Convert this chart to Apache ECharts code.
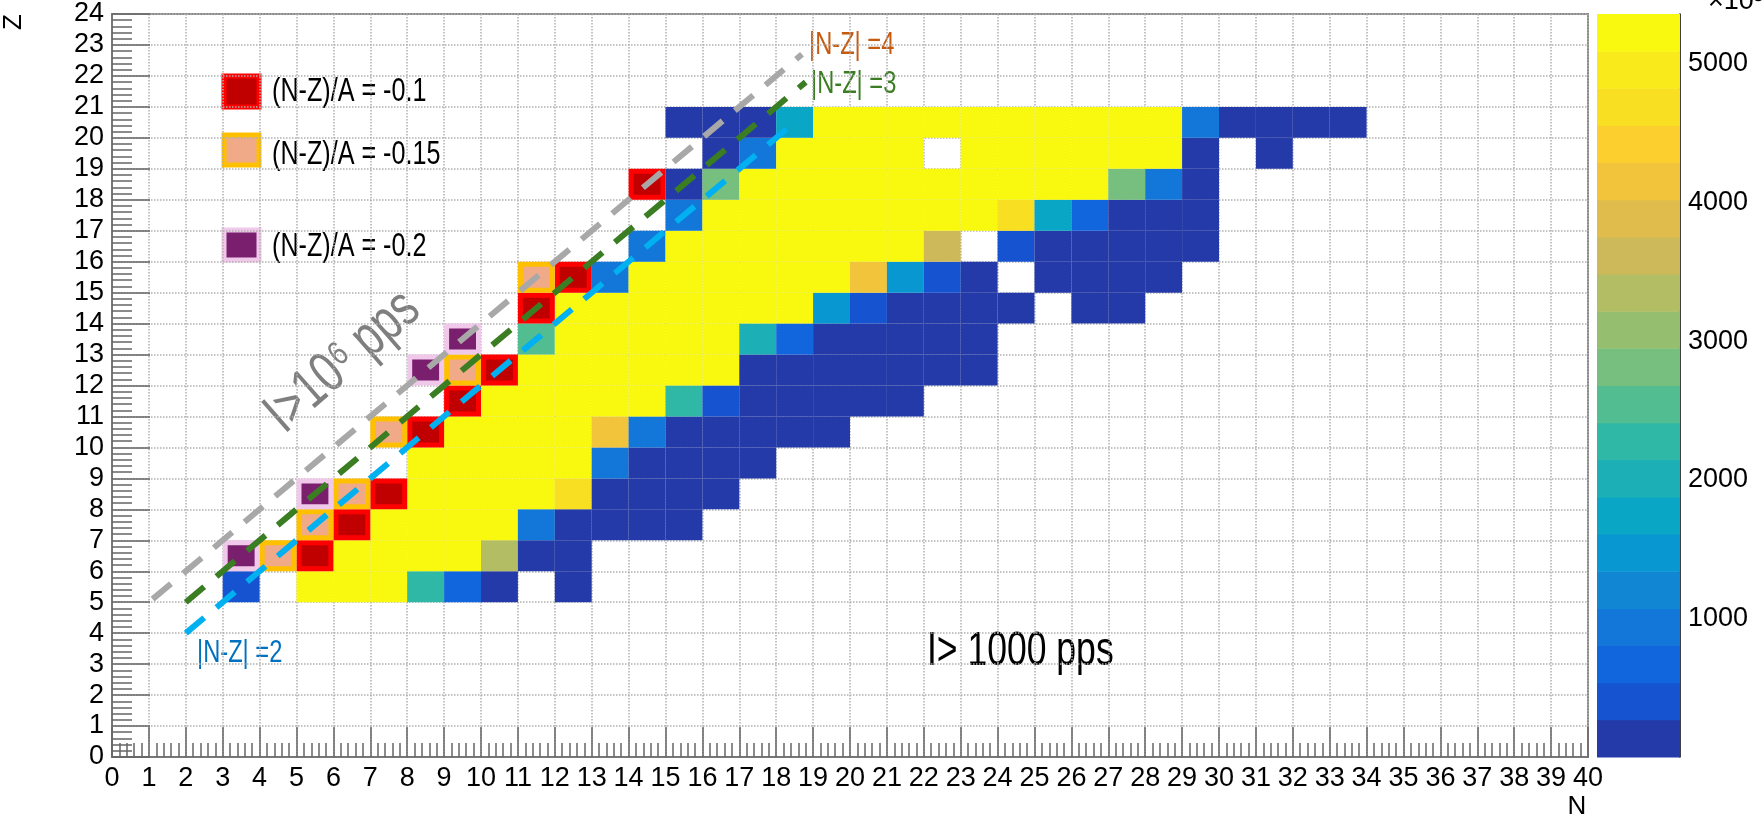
<!DOCTYPE html>
<html>
<head>
<meta charset="utf-8">
<script src="https://cdn.jsdelivr.net/npm/echarts@6/dist/echarts.min.js"></script>
<style>
  html, body { margin: 0; padding: 0; background: #fff; }
  #chart { width: 1762px; height: 824px; }
</style>
</head>
<body>
<div id="chart"></div>
<script>
// colour scale (x10^3), 20 bands from bottom to top
const bandMin = 0;
const bandMax = 5360;
const bandColors = [
  "#243aa8", "#1553d0", "#1166dd", "#1277d8", "#1187d4",
  "#0897d0", "#0aa6c6", "#1cb0b6", "#2fb8a6", "#52bd90",
  "#76bf7e", "#95bf6e", "#b3bd63", "#cdb85a", "#e0bc4c",
  "#f2c43c", "#fcce2e", "#f9df22", "#f9ea1c", "#f9f90f"
];
const scaleTicks = [1000, 2000, 3000, 4000, 5000];

// cell values, per Z row: [first N, values...]  (null = empty)
const Y = 5300, K = 130;
const rowZ5 = [3, 400, null, Y, Y, Y, 2280, 670, K, null, K];
const rowZ6 = [6, Y, Y, Y, Y, 3350, K, K];
const rowZ7 = [7, Y, Y, Y, Y, 940, K, K, K, K];
const rowZ8 = [8, Y, Y, Y, Y, 4700, K, K, K, K];
const rowZ9 = [8, Y, Y, Y, Y, Y, 940, K, K, K, K];
const rowZ10 = [9, Y, Y, Y, Y, 4150, 940, K, K, K, K, K];
const rowZ11 = [10, Y, Y, Y, Y, Y, 2280, 400, K, K, K, K, K];
const rowZ12 = [11, Y, Y, Y, Y, Y, Y, K, K, K, K, K, K, K];
const rowZ13 = [11, 2550, Y, Y, Y, Y, Y, 2010, 670, K, K, K, K, K];
const rowZ14 = [12, Y, Y, Y, Y, Y, Y, Y, 1470, 400, K, K, K, K, null, K, K];
const rowZ15 = [13, 940, Y, Y, Y, Y, Y, Y, 4150, 1470, 400, K, null, K, K, K, K];
const rowZ16 = [14, 940, Y, Y, Y, Y, Y, Y, Y, 3620, null, 400, K, K, K, K, K];
const rowZ17 = [15, 940, Y, Y, Y, Y, Y, Y, Y, Y, 4700, 1740, 670, K, K, K];
const rowZ18 = [15, K, 2820, Y, Y, Y, Y, Y, Y, Y, Y, Y, Y, 2820, 940, K];
const rowZ19 = [16, K, 940, Y, Y, Y, Y, null, Y, Y, Y, Y, Y, Y, K, null, K];
const rowZ20 = [15, K, K, K, 1740, Y, Y, Y, Y, Y, Y, Y, Y, Y, Y, 940, K, K, K, K];
const rows = [[5, rowZ5], [6, rowZ6], [7, rowZ7], [8, rowZ8], [9, rowZ9], [10, rowZ10],
  [11, rowZ11], [12, rowZ12], [13, rowZ13], [14, rowZ14], [15, rowZ15], [16, rowZ16],
  [17, rowZ17], [18, rowZ18], [19, rowZ19], [20, rowZ20]];

// highlighted nuclei [N, Z]
const redCells = [[5, 6], [6, 7], [7, 8], [8, 10], [9, 11], [10, 12], [11, 14], [12, 15], [14, 18]];
const peachCells = [[4, 6], [5, 7], [6, 8], [7, 10], [9, 12], [11, 15]];
const purpleCells = [[3, 6], [5, 8], [8, 12], [9, 13]];

// |N-Z| guide lines
const lineNZ4 = [[1.1, 5.1], [18.7, 22.7]];
const lineNZ3 = [[2, 5], [18.8, 21.8]];
const lineNZ2 = [[2, 4], [18.6, 20.6]];

const cells = [];
rows.forEach(([z, r]) => {
  for (let i = 1; i < r.length; i++) {
    if (r[i] !== null) cells.push([r[0] + i - 1, z, r[i]]);
  }
});
const bandStep = (bandMax - bandMin) / bandColors.length;
const bands = bandColors.map((c, i) => [0, bandMin + i * bandStep, bandMin + (i + 0.5) * bandStep]);
const pieces = bandColors.map((c, i) => ({
  gte: bandMin + i * bandStep, lt: bandMin + (i + 1) * bandStep, color: c
}));

const FONT = "Liberation Sans";
const NARROW = "'Liberation Sans', sans-serif";
const SQ = 0.74; // squeeze for the condensed annotation font

function cellRect(params, api) {
  const p0 = api.coord([api.value(0), api.value(1) + 1]);
  const p1 = api.coord([api.value(0) + 1, api.value(1)]);
  return {
    type: "rect",
    shape: { x: p0[0], y: p0[1], width: p1[0] - p0[0], height: p1[1] - p0[1] },
    style: { fill: api.visual("color") }
  };
}
function bandRect(params, api) {
  const p0 = api.coord([0, api.value(1) + bandStep]);
  const p1 = api.coord([1, api.value(1)]);
  return {
    type: "rect",
    shape: { x: p0[0], y: p0[1], width: p1[0] - p0[0], height: p1[1] - p0[1] + 0.5 },
    style: { fill: api.visual("color") }
  };
}
function markRect(fill, stroke) {
  return function (params, api) {
    const p0 = api.coord([api.value(0), api.value(1) + 1]);
    const p1 = api.coord([api.value(0) + 1, api.value(1)]);
    return {
      type: "rect",
      shape: { x: p0[0] + 2.5, y: p0[1] + 2.5, width: p1[0] - p0[0] - 5, height: p1[1] - p0[1] - 5 },
      style: { fill: fill, stroke: stroke, lineWidth: 5 }
    };
  };
}
function guide(data, color) {
  return {
    type: "line", data: data, xAxisIndex: 0, yAxisIndex: 0, symbol: "none", silent: true,
    lineStyle: { color: color, width: 6, type: [24, 16] }, z: 5
  };
}
function note(x, y, text, size, color, align) {
  return {
    type: "text", x: x, y: y, scaleX: SQ,
    style: { text: text, font: size + "px " + NARROW, fill: color,
      textAlign: align || "left", textVerticalAlign: "middle" }
  };
}

const grayNote = note(343, 362, "I>10\u2076 pps", 58, "#7f7f7f", "center");
grayNote.rotation = 0.72;

const chart = echarts.init(document.getElementById("chart"));
chart.setOption({
  animation: false,
  grid: [
    { left: 112, right: 174, top: 14, bottom: 67, show: true, borderColor: "#888", borderWidth: 2 },
    { left: 1597, width: 83, top: 14, bottom: 67 }
  ],
  visualMap: {
    type: "piecewise", show: false, seriesIndex: [0, 1], dimension: 2, pieces: pieces
  },
  xAxis: [
    {
      type: "value", min: 0, max: 40, interval: 1, gridIndex: 0,
      axisLine: { lineStyle: { color: "#777", width: 2 } },
      axisTick: { inside: true, length: 30, lineStyle: { color: "#666", width: 1.5 } },
      minorTick: { show: true, splitNumber: 5, length: 14, lineStyle: { color: "#666", width: 1.5 } },
      axisLabel: { fontFamily: FONT, fontSize: 27, color: "#000", margin: 8, interval: 0 },
      splitLine: { show: true, lineStyle: { color: "#b0b0b0", type: "dotted", width: 1.5 } }
    },
    { type: "category", gridIndex: 1, data: ["c"], show: false, boundaryGap: false, min: 0, max: 1 }
  ],
  yAxis: [
    {
      type: "value", min: 0, max: 24, interval: 1, gridIndex: 0,
      axisLine: { lineStyle: { color: "#777", width: 2 } },
      axisTick: { inside: true, length: 38, lineStyle: { color: "#666", width: 1.5 } },
      minorTick: { show: true, splitNumber: 5, length: 20, lineStyle: { color: "#666", width: 1.5 } },
      axisLabel: { fontFamily: FONT, fontSize: 27, color: "#000", margin: 8 },
      splitLine: { show: true, lineStyle: { color: "#b0b0b0", type: "dotted", width: 1.5 } }
    },
    {
      type: "value", min: bandMin, max: bandMax, gridIndex: 1, position: "right",
      axisLine: { show: true, lineStyle: { color: "#000", width: 1.5 } },
      axisTick: { inside: true, length: 38, lineStyle: { color: "#000", width: 1.5 },
        customValues: scaleTicks },
      axisLabel: { fontFamily: FONT, fontSize: 27, color: "#000", margin: 8,
        customValues: scaleTicks, formatter: (v) => String(v) },
      splitLine: { show: false }
    }
  ],
  series: [
    {
      type: "custom", xAxisIndex: 0, yAxisIndex: 0, renderItem: cellRect, data: cells,
      encode: { x: 0, y: 1 }, z: 2
    },
    {
      type: "custom", xAxisIndex: 1, yAxisIndex: 1, renderItem: bandRect, data: bands,
      encode: { y: 1 }, z: 2
    },
    { type: "custom", renderItem: markRect("#c00000", "#ff0000"), data: redCells, encode: { x: 0, y: 1 }, z: 3 },
    { type: "custom", renderItem: markRect("#f0aa88", "#ffc000"), data: peachCells, encode: { x: 0, y: 1 }, z: 3 },
    { type: "custom", renderItem: markRect("#7a1e6e", "#f0c8ea"), data: purpleCells, encode: { x: 0, y: 1 }, z: 3 },
    guide(lineNZ4, "#a8a8a8"),
    guide(lineNZ3, "#3a7d22"),
    guide(lineNZ2, "#00b0f0")
  ],
  graphic: [
    { type: "rect", shape: { x: 224, y: 76, width: 35, height: 31 }, style: { fill: "#c00000", stroke: "#ff0000", lineWidth: 5 } },
    { type: "rect", shape: { x: 224, y: 135, width: 35, height: 30 }, style: { fill: "#f0aa88", stroke: "#ffc000", lineWidth: 5 } },
    { type: "rect", shape: { x: 224, y: 230, width: 35, height: 30 }, style: { fill: "#7a1e6e", stroke: "#f0c8ea", lineWidth: 5 } },
    note(272, 92, "(N-Z)/A = -0.1", 34, "#000"),
    note(272, 155, "(N-Z)/A = -0.15", 34, "#000"),
    note(272, 247, "(N-Z)/A = -0.2", 34, "#000"),
    note(809, 45, "|N-Z| =4", 32, "#c55a11"),
    note(811, 84, "|N-Z| =3", 32, "#3a7d22"),
    note(197, 653, "|N-Z| =2", 32, "#0070c0"),
    note(927, 652, "I> 1000 pps", 48, "#000"),
    grayNote,
    { type: "text", x: 14, y: 22, rotation: Math.PI / 2, style: { text: "Z", font: "26px " + FONT, fill: "#000", textAlign: "center", textVerticalAlign: "middle" } },
    { type: "text", x: 1577, y: 807, style: { text: "N", font: "26px " + FONT, fill: "#000", textAlign: "center", textVerticalAlign: "middle" } },
    { type: "text", x: 1708, y: 2, style: { text: "\u00d710\u00b3", font: "27px " + FONT, fill: "#000", textVerticalAlign: "middle" } }
  ]
});
</script>
</body>
</html>
